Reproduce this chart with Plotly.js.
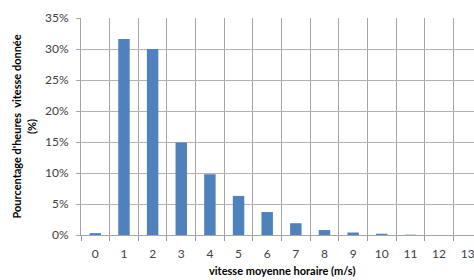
<!DOCTYPE html>
<html>
<head>
<meta charset="utf-8">
<script src="https://cdn.plot.ly/plotly-3.0.1.min.js"></script>
<style>html,body{margin:0;padding:0;overflow:hidden;background:#fff}</style>
</head>
<body>
<div id="chart" style="width:474px;height:280px"></div>
<script>
const categories = ["0","1","2","3","4","5","6","7","8","9","10","11","12","13"];
const percentages = [0.003, 0.316, 0.300, 0.149, 0.098, 0.063, 0.037, 0.019, 0.008, 0.004, 0.002, 0.0005, 0, 0];
const yTickValues = [0, 0.05, 0.10, 0.15, 0.20, 0.25, 0.30, 0.35];
const yTickLabels = ["0%", "5%", "10%", "15%", "20%", "25%", "30%", "35%"];
const yTitleLines = ["Pourcentage d'heures  vitesse donnée", "(%)"];
const xTitle = "vitesse moyenne horaire (m/s)";

const font = "Lato, 'Open Sans', sans-serif";
const trace = {
  type: "bar",
  x: categories,
  y: percentages,
  marker: {color: "#4F81BD", line: {width: 0}},
  hoverinfo: "skip"
};
const layout = {
  width: 474, height: 280,
  margin: {l: 81, r: 0, t: 18, b: 45},
  paper_bgcolor: "#fff", plot_bgcolor: "#fff",
  bargap: 0.6,
  showlegend: false,
  font: {family: font, size: 12, color: "#404040"},
  xaxis: {
    type: "category",
    range: [-0.5, 13.22],
    tickson: "boundaries",
    ticks: "outside", ticklen: 5, tickcolor: "#999",
    ticklabelstandoff: 8,
    showgrid: true, gridcolor: "#a6a6a6", gridwidth: 1,
    showline: true, linecolor: "#a6a6a6", linewidth: 1,
    tickfont: {family: font, size: 12, color: "#404040"},
    fixedrange: true
  },
  yaxis: {
    range: [0, 0.35],
    tickvals: yTickValues, ticktext: yTickLabels,
    ticks: "outside", ticklen: 4, tickcolor: "#a6a6a6",
    ticklabelstandoff: 5,
    showgrid: true, gridcolor: "#b3b3b3", gridwidth: 1,
    showline: true, linecolor: "#a6a6a6", linewidth: 1,
    zeroline: false,
    tickfont: {family: font, size: 12, color: "#404040"},
    title: {text: yTitleLines.map(s => "<b>" + s + "</b>").join("<br>"),
            font: {family: font, size: 11, color: "#000"}, standoff: 6},
    fixedrange: true
  },
  annotations: [{
    text: "<b>" + xTitle + "</b>",
    xref: "paper", yref: "paper",
    x: 0.511, y: -0.163,
    xanchor: "center", yanchor: "middle",
    showarrow: false,
    font: {family: font, size: 11, color: "#000"}
  }]
};
Plotly.newPlot("chart", [trace], layout, {displayModeBar: false, staticPlot: true});
</script>
</body>
</html>
